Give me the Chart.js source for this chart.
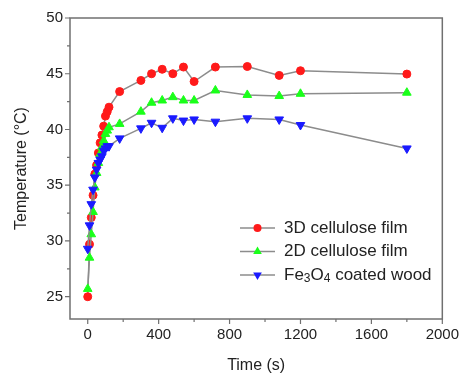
<!DOCTYPE html>
<html>
<head>
<meta charset="utf-8">
<script src="https://cdn.jsdelivr.net/npm/chart.js@4.4.1/dist/chart.umd.min.js"></script>
<style>
    html, body { margin: 0; padding: 0; background: #fff; }
    #wrap { width: 466px; height: 374px; }
</style>
</head>
<body>
<div id="wrap"><canvas id="chart" width="466" height="374"></canvas></div>
<script>
// Temperature vs time data
const timeSec = [0, 10, 20, 30, 40, 50, 60, 70, 80, 90, 100, 110, 120,
                 180, 300, 360, 420, 480, 540, 600, 720, 900, 1080, 1200, 1800];
const film3D = [25.0, 29.7, 32.1, 34.1, 36.0, 36.8, 37.9, 38.8, 39.5, 40.3, 41.2, 41.6, 42.0,
                43.4, 44.4, 45.0, 45.4, 45.0, 45.6, 44.3, 45.6, 45.65, 44.85, 45.27, 44.97];
const film2D = [25.7, 28.5, 30.6, 32.6, 34.8, 36.1, 37.0, 37.8, 38.4, 39.0, 39.6, 39.9, 40.2,
                40.5, 41.6, 42.4, 42.6, 42.9, 42.6, 42.6, 43.5, 43.1, 43.0, 43.2, 43.3];
const fe3o4Wood = [29.3, 31.4, 33.3, 34.6, 35.7, 36.4, 37.0, 37.3, 37.6, 38.1, 38.3, 38.5, 38.5,
                   39.2, 40.1, 40.6, 40.15, 41.0, 40.8, 40.9, 40.7, 41.0, 40.9, 40.4, 38.3];
const seriesLabels = ['3D cellulose film', '2D cellulose film', 'Fe\u2083O\u2084 coated wood'];
const xTicks = [0, 400, 800, 1200, 1600, 2000];
const yTicks = [25, 30, 35, 40, 45, 50];
const xMinorStep = 200;
const yMinorStep = 2.5;

const lineGray = '#8c8c8c';
const frameGray = '#707070';
const textColor = '#222';
const fontFamily = '"Liberation Sans", Arial, Helvetica, sans-serif';

function toPoints(values) {
    return timeSec.map((t, i) => ({ x: t, y: values[i] }));
}

// Plot frame plus outward major/minor ticks on left and bottom axes
const frameAndTicks = {
    id: 'frameAndTicks',
    afterDraw(chart) {
        const { ctx, chartArea: a, scales } = chart;
        const x = scales.x, y = scales.y;
        ctx.save();
        ctx.strokeStyle = frameGray;
        ctx.lineWidth = 1.5;
        ctx.strokeRect(a.left, a.top, a.right - a.left, a.bottom - a.top);

        ctx.lineWidth = 1.2;
        ctx.beginPath();
        for (let v = xTicks[0]; v <= xTicks[xTicks.length - 1]; v += xMinorStep) {
            const px = x.getPixelForValue(v);
            const len = xTicks.includes(v) ? 5 : 3;
            ctx.moveTo(px, a.bottom);
            ctx.lineTo(px, a.bottom + len);
        }
        for (let v = yTicks[0]; v <= yTicks[yTicks.length - 1]; v += yMinorStep) {
            const py = y.getPixelForValue(v);
            const len = yTicks.includes(v) ? 5 : 3;
            ctx.moveTo(a.left, py);
            ctx.lineTo(a.left - len, py);
        }
        ctx.stroke();
        ctx.restore();
    }
};

function drawMarker(ctx, ds, cx, cy) {
    const r = ds.pointRadius;
    ctx.fillStyle = ds.pointBackgroundColor;
    ctx.beginPath();
    if (ds.pointStyle === 'circle') {
        ctx.arc(cx, cy, r, 0, Math.PI * 2);
    } else {
        const dir = ds.pointRotation === 180 ? -1 : 1;
        ctx.moveTo(cx, cy - dir * r);
        ctx.lineTo(cx + r * 0.866, cy + dir * r * 0.5);
        ctx.lineTo(cx - r * 0.866, cy + dir * r * 0.5);
        ctx.closePath();
    }
    ctx.fill();
}

// Legend in the lower right, no box
const insideLegend = {
    id: 'insideLegend',
    afterDraw(chart) {
        const { ctx, chartArea: a } = chart;
        const rowH = 23.5;
        const top = a.bottom - 91;
        const lineX0 = a.left + 170, lineX1 = a.left + 205, textX = a.left + 214;
        ctx.save();
        ctx.textBaseline = 'middle';
        chart.data.datasets.forEach((ds, i) => {
            const cy = top + i * rowH;
            ctx.strokeStyle = lineGray;
            ctx.lineWidth = 1.5;
            ctx.beginPath();
            ctx.moveTo(lineX0, cy);
            ctx.lineTo(lineX1, cy);
            ctx.stroke();
            drawMarker(ctx, ds, (lineX0 + lineX1) / 2, cy);

            ctx.fillStyle = textColor;
            if (i === 2) {
                // Fe3O4 with subscripts
                let tx = textX;
                const parts = [['Fe', 0], ['3', 1], ['O', 0], ['4', 1], [' coated wood', 0]];
                parts.forEach(([s, sub]) => {
                    ctx.font = (sub ? '12px ' : '17px ') + fontFamily;
                    ctx.fillText(s, tx, cy + (sub ? 4 : 0));
                    tx += ctx.measureText(s).width;
                });
            } else {
                ctx.font = '17px ' + fontFamily;
                ctx.fillText(ds.label, textX, cy);
            }
        });
        ctx.restore();
    }
};

const common = {
    showLine: true,
    borderColor: lineGray,
    borderWidth: 1.5,
    tension: 0,
    pointBorderWidth: 1
};

new Chart(document.getElementById('chart'), {
    type: 'line',
    data: {
        datasets: [
            Object.assign({}, common, {
                label: seriesLabels[0],
                data: toPoints(film3D),
                pointStyle: 'circle',
                pointRadius: 4,
                pointBackgroundColor: '#ff1a1a',
                pointBorderColor: '#ff1a1a',
                order: 3
            }),
            Object.assign({}, common, {
                label: seriesLabels[1],
                data: toPoints(film2D),
                pointStyle: 'triangle',
                pointRadius: 5,
                pointBackgroundColor: '#1aff1a',
                pointBorderColor: '#1aff1a',
                order: 2
            }),
            Object.assign({}, common, {
                label: seriesLabels[2],
                data: toPoints(fe3o4Wood),
                pointStyle: 'triangle',
                pointRotation: 180,
                pointRadius: 5,
                pointBackgroundColor: '#1a1aff',
                pointBorderColor: '#1a1aff',
                order: 1
            })
        ]
    },
    options: {
        responsive: false,
        animation: false,
        layout: { padding: { top: 18, right: 20, left: 0, bottom: 0 } },
        plugins: {
            legend: { display: false },
            tooltip: { enabled: false }
        },
        scales: {
            x: {
                type: 'linear',
                min: -100,
                max: 2000,
                afterBuildTicks: s => { s.ticks = xTicks.map(v => ({ value: v })); },
                afterFit: s => { s.height = 55; },
                grid: { display: false, drawTicks: false },
                border: { display: false },
                ticks: {
                    maxRotation: 0,
                    padding: 7,
                    color: textColor,
                    font: { family: fontFamily, size: 15 },
                    callback: v => String(v)
                },
                title: {
                    display: true,
                    text: 'Time (s)',
                    color: textColor,
                    padding: 0,
                    font: { family: fontFamily, size: 16, lineHeight: 1 }
                }
            },
            y: {
                min: 23,
                max: 50,
                afterBuildTicks: s => { s.ticks = yTicks.map(v => ({ value: v })); },
                afterFit: s => { s.width = 70; },
                grid: { display: false, drawTicks: false },
                border: { display: false },
                ticks: {
                    padding: 7,
                    color: textColor,
                    font: { family: fontFamily, size: 15 },
                    callback: v => String(v)
                },
                title: {
                    display: true,
                    text: 'Temperature (\u00B0C)',
                    color: textColor,
                    padding: { top: 14, bottom: 0 },
                    font: { family: fontFamily, size: 16, lineHeight: 1 }
                }
            }
        }
    },
    plugins: [frameAndTicks, insideLegend]
});
</script>
</body>
</html>
